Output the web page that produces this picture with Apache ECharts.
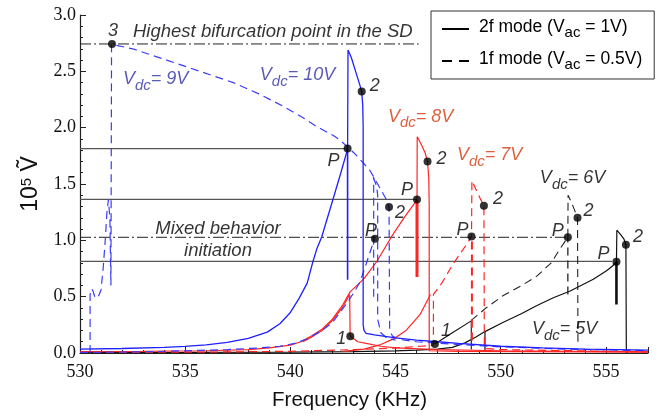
<!DOCTYPE html>
<html>
<head>
<meta charset="utf-8">
<script src="https://cdn.jsdelivr.net/npm/echarts@6/dist/echarts.min.js"></script>
<style>html,body{margin:0;padding:0;background:#fff}#c{width:669px;height:416px}</style>
</head>
<body>
<div id="c"></div>
<script>
// ---------- data ----------
const xTicks = [530, 535, 540, 545, 550, 555];
const yTicks = [0.0, 0.5, 1.0, 1.5, 2.0, 2.5, 3.0];
const legendNames = ['2f mode (Vac = 1V)', '1f mode (Vac = 0.5V)'];

// Vdc = 10V, 2f mode (blue solid)
const blue10Main = [[530,0.035],[532,0.04],[534,0.05],[535,0.058],[536,0.072],[537,0.095],[538,0.13],[538.9,0.185],[539.5,0.26],[540,0.36],[540.4,0.48],[540.8,0.62],[541.07,0.81],[541.25,0.92],[541.49,1.03],[542.02,1.36],[542.4,1.6],[542.72,1.81],[542.74,2.69],[542.9,2.62],[543.1,2.5],[543.3,2.38],[543.39,2.32],[543.44,2.2],[543.46,2.0],[543.46,0.25],[543.5,0.2],[543.6,0.175],[544,0.16],[545,0.135],[546,0.115],[547,0.1],[548,0.085],[550,0.06],[552,0.045],[554,0.035],[557,0.025]];
const blue10Jump = [[542.72,0.65],[542.72,1.81]];

// Vdc = 9V, 1f mode (blue dashed)
const blue9Main = [[530.48,0],[530.48,0.52],[530.55,0.57],[530.62,0.55],[530.7,0.5],[530.85,0.49],[531.0,0.56],[531.1,0.75],[531.2,1.0],[531.28,1.25],[531.35,1.36],[531.42,1.2],[531.47,0.6],[531.5,2.74],[532.5,2.7],[534.12,2.6],[535.7,2.5],[537.29,2.4],[538.5,2.3],[539.66,2.19],[540.5,2.1],[541.25,2.01],[542.04,1.93],[542.36,1.89],[543.0,1.78],[543.5,1.68],[543.78,1.62],[543.94,1.57],[544.3,1.45],[544.57,1.36],[544.69,1.295],[544.72,0.21],[544.85,0.15],[545.2,0.12],[546,0.1],[548,0.075],[550,0.055],[553,0.035],[557,0.02]];
const blue9Up = [[530,0.005],[533,0.01],[535,0.02],[537,0.03],[538.5,0.045],[539.5,0.06],[540.2,0.085],[540.78,0.124],[541.5,0.2],[542.0,0.27],[542.6,0.42],[543.0,0.53],[543.31,0.63],[543.6,0.79],[543.85,0.93],[544.0,1.015]];
const blue9Jump = [[543.96,0.5],[543.96,1.56]];
const blue9Drop = [[543.94,1.56],[544.1,1.48],[544.15,1.4],[544.15,0.3],[544.3,0.18],[544.6,0.13],[545,0.115]];

// Vdc = 8V, 2f mode (red solid)
const red8Main = [[530,0.012],[533,0.014],[536,0.02],[538,0.03],[539,0.045],[540,0.07],[540.5,0.1],[541,0.15],[541.5,0.21],[542,0.3],[542.5,0.43],[542.83,0.54],[543.5,0.66],[544.1,0.81],[544.8,1.03],[545.4,1.2],[546.02,1.36],[546.03,1.92],[546.2,1.86],[546.4,1.78],[546.52,1.7],[546.58,1.55],[546.6,1.3],[546.6,0.02],[548,0.015],[557,0.008]];
const red8Down = [[540.6,0.1],[541,0.14],[541.5,0.2],[542,0.29],[542.5,0.41],[542.82,0.52],[542.84,0.15],[543.2,0.1],[543.6,0.085],[544.3,0.06],[545,0.045],[547,0.03],[550,0.02],[557,0.01]];
const red8Jump = [[546.02,0.675],[546.02,1.36]];
const red8Rise = [[542.5,0.015],[543.5,0.035],[544.3,0.075],[544.9,0.125],[545.5,0.2],[546.16,0.34],[546.66,0.52]];

// Vdc = 7V, 1f mode (red dashed)
const red7Main = [[530,0.004],[536,0.008],[540,0.015],[543,0.03],[545,0.045],[546.2,0.06],[546.8,0.07],[546.8,0.52],[547.2,0.62],[547.7,0.78],[548.1,0.89],[548.4,0.97],[548.61,1.035],[548.63,1.53],[548.8,1.46],[549.0,1.38],[549.2,1.307],[549.22,0.04],[550,0.03],[557,0.01]];
const red7Jump = [[548.63,0.11],[548.63,1.035]];

// Vdc = 6V, 1f mode (black dashed)
const black6Main = [[548.6,0.29],[549.3,0.4],[550.12,0.51],[551,0.6],[551.7,0.68],[552.4,0.8],[552.8,0.92],[553.19,1.027],[553.2,1.4],[553.4,1.32],[553.65,1.2],[553.67,0.1]];
const black6Jump = [[553.19,0.52],[553.19,1.027]];
const black6Start = [[546.87,0.08],[547.7,0.18],[548.6,0.285],[548.6,0.03]];

// Vdc = 5V, 2f mode (black solid)
const black5Main = [[530,0.003],[535,0.005],[540,0.008],[543,0.012],[545,0.018],[546,0.025],[547,0.035],[547.7,0.05],[548.3,0.09],[548.8,0.14],[549.25,0.19],[550.1,0.27],[551,0.35],[551.7,0.42],[552.5,0.49],[553.3,0.55],[554.4,0.655],[555.03,0.73],[555.3,0.77],[555.5,0.81],[555.52,1.09],[555.7,1.05],[555.86,1.01],[555.95,0.96],[555.97,0]];
const black5Jump = [[555.5,0.43],[555.5,0.81]];
const black5Drop = [[549.25,0.19],[549.25,0.02]];

// horizontal reference levels [y, xEnd]
const solidLevels = [[1.814, 542.72], [1.363, 546.02], [0.814, 555.3]];
const dashDotLevels = [[2.743, 546.1], [1.027, 553.19]];

// marked points and their names
const markPts = [[531.52,2.743],[542.72,1.814],[543.39,2.32],[546.02,1.363],[546.52,1.70],[544.02,1.015],[544.69,1.295],[548.61,1.035],[549.2,1.307],[553.19,1.027],[553.65,1.20],[555.5,0.81],[555.95,0.96],[542.85,0.148],[546.87,0.08]];
const markNames = ['3','P','2','P','2','P','2','P','2','P','2','P','2','1','1'];

// annotation texts and anchors (data coords)
const noteTexts = ['Highest bifurcation point in the SD','Vdc= 9V','Vdc= 10V','Vdc= 8V','Vdc= 7V','Vdc= 6V','Vdc= 5V','Mixed behavior','initiation'];
const noteAnchors = [[532.52,2.85],[532.04,2.42],[538.55,2.46],[544.64,2.09],[547.92,1.75],[551.86,1.54],[551.48,0.2],[536.56,1.10],[536.56,0.905]];

// ---------- styling ----------
const BLUE = '#1f1fff', BLUED = '#3a3aff', RED = '#ff2424', BLK = '#111';
const DASH = [8, 5], DASHDOT = [11, 3, 2, 3];
const labelOffsets = [[1,-13],[-14,12],[13,-6],[-10,-9],[14,-2],[-4,-8],[11,6],[-9,-6],[14,-7],[-10,-6],[11,-7],[-13,-8],[12,-8],[-9,3],[11,-13]];
const noteColors = ['#000','#3030a5','#3030a5','#d4380d','#d4380d','#000','#000','#000','#000'];
const noteAlign = ['left','left','left','left','left','left','left','center','center'];

function line(data, color, width, type, z) {
  return {type:'line', data, symbol:'none', showSymbol:false, silent:true, animation:false,
    lineStyle:{color, width, type: type || 'solid'}, z: z || 2};
}
function richNote(t) {
  const m = t.match(/^V(dc)(.*)$/);
  if (m) return '{v|V}{s|dc}{v|' + m[2] + '}';
  return '{v|' + t + '}';
}

const series = [];
solidLevels.forEach(l => series.push(line([[530, l[0]], [l[1], l[0]]], '#555', 1.2, 'solid', 1)));
dashDotLevels.forEach(l => series.push(line([[530, l[0]], [l[1], l[0]]], '#222', 1, DASHDOT, 1)));

series.push(line(black5Main, BLK, 1.2));
series.push(line(black5Jump, BLK, 2.6));
series.push(line(black5Drop, BLK, 1.2));
series.push(line(black6Main, '#222', 1.1, DASH));
series.push(line(black6Jump, '#222', 1.3, DASH));
series.push(line(black6Start, BLK, 1.1));
series.push(line(red7Main, RED, 1.2, DASH));
series.push(line(red7Jump, RED, 2, DASH));
series.push(line(red8Main, RED, 1.2));
series.push(line(red8Down, RED, 1.2));
series.push(line(red8Jump, RED, 3));
series.push(line(red8Rise, RED, 1.2));
series.push(line(blue9Up, BLUED, 1.2, DASH));
series.push(line(blue9Main, BLUED, 1.2, DASH));
series.push(line(blue9Jump, BLUED, 1.2, DASH));
series.push(line(blue9Drop, BLUED, 1.2, DASH));
series.push(line(blue10Main, BLUE, 1.3));
series.push(line(blue10Jump, BLUE, 1.6));

// legend proxies
series.push({type:'line', name:legendNames[0], data:[], symbol:'none', symbolSize:0, lineStyle:{color:'#000', width:2, type:'solid'}, itemStyle:{color:'#000'}});
series.push({type:'line', name:legendNames[1], data:[], symbol:'none', symbolSize:0, lineStyle:{color:'#000', width:2, type:[10,7]}, itemStyle:{color:'#000'}});

// points
series.push({
  type:'scatter', silent:true, animation:false, z:10, symbol:'circle', symbolSize:8,
  itemStyle:{color:'#000'},
  data: markPts.map((p, i) => ({value:p, label:{show:true, formatter:markNames[i], position:'inside', offset:labelOffsets[i]}})),
  label:{fontFamily:'Liberation Sans', fontStyle:'italic', fontSize:18, color:'#000'}
});
// annotations
series.push({
  type:'scatter', silent:true, animation:false, z:11, symbolSize:0,
  data: noteAnchors.map((p, i) => ({value:p, label:{show:true, formatter:richNote(noteTexts[i]),
    position: noteAlign[i] === 'left' ? 'right' : 'inside', distance:0,
    rich:{
      v:{fontFamily:'Liberation Sans', fontStyle:'italic', fontSize: i === 0 || i > 6 ? 18.5 : 18, color:noteColors[i], verticalAlign:'top', lineHeight:20},
      s:{fontFamily:'Liberation Sans', fontStyle:'italic', fontSize:15, color:noteColors[i], verticalAlign:'top', lineHeight:20, padding:[8,0,0,0]}
    }}}))
});

const chart = echarts.init(document.getElementById('c'), null, {renderer:'canvas'});
chart.setOption({
  backgroundColor:'#fff',
  animation:false,
  grid:{left:80, right:21, top:15, bottom:62, containLabel:false},
  legend:{
    left:431, top:11, orient:'vertical', padding:[7,12,7,10], itemGap:10,
    itemWidth:27, itemHeight:12, borderColor:'#333', borderWidth:1, backgroundColor:'#fff',
    selectedMode:false,
    itemStyle:{opacity:0},
    data: legendNames,
    formatter: n => {
      const m = n.match(/^(.*\(V)ac(.*)$/);
      return '{g| }{n|' + m[1] + '}{s|ac}{n|' + m[2] + '}';
    },
    textStyle:{color:'#000', fontFamily:'Liberation Sans', fontSize:17,
      rich:{g:{width:5, fontSize:10},
            n:{fontFamily:'Liberation Sans', fontSize:17.5, color:'#000', verticalAlign:'top', lineHeight:22},
            s:{fontFamily:'Liberation Sans', fontSize:15, color:'#000', verticalAlign:'top', lineHeight:22, padding:[7,0,0,0]}}}
  },
  xAxis:{
    type:'value', min:530, max:557, interval:5,
    name:'Frequency (KHz)', nameLocation:'middle', nameGap:37,
    nameTextStyle:{fontFamily:'Liberation Sans', fontSize:20.5, color:'#111', padding:[0,29,0,0]},
    axisLine:{show:true, onZero:false, lineStyle:{color:'#222', width:1.2}},
    axisTick:{show:true, inside:true, length:6, lineStyle:{color:'#222'}},
    minorTick:{show:true, splitNumber:5, length:3, lineStyle:{color:'#222'}},
    splitLine:{show:false},
    axisLabel:{fontFamily:'Liberation Serif', fontSize:18, color:'#111', margin:10,
      formatter: v => xTicks.includes(v) ? String(v) : ''}
  },
  yAxis:{
    type:'value', min:0, max:3, interval:0.5,
    name:'10{sup|5} Ṽ', nameLocation:'middle', nameGap:32, nameRotate:90,
    nameTextStyle:{fontFamily:'Liberation Sans', fontSize:23, color:'#111',
      rich:{sup:{fontFamily:'Liberation Sans', fontSize:15, color:'#111', verticalAlign:'top'}}},
    axisLine:{show:true, onZero:false, lineStyle:{color:'#222', width:1.2}},
    axisTick:{show:true, inside:true, length:6, lineStyle:{color:'#222'}},
    minorTick:{show:true, splitNumber:5, length:3, lineStyle:{color:'#222'}},
    splitLine:{show:false},
    axisLabel:{fontFamily:'Liberation Serif', fontSize:18, color:'#111', margin:4,
      formatter: v => yTicks.some(t => Math.abs(t - v) < 1e-9) ? v.toFixed(1) : ''}
  },
  series
});
</script>
</body>
</html>
